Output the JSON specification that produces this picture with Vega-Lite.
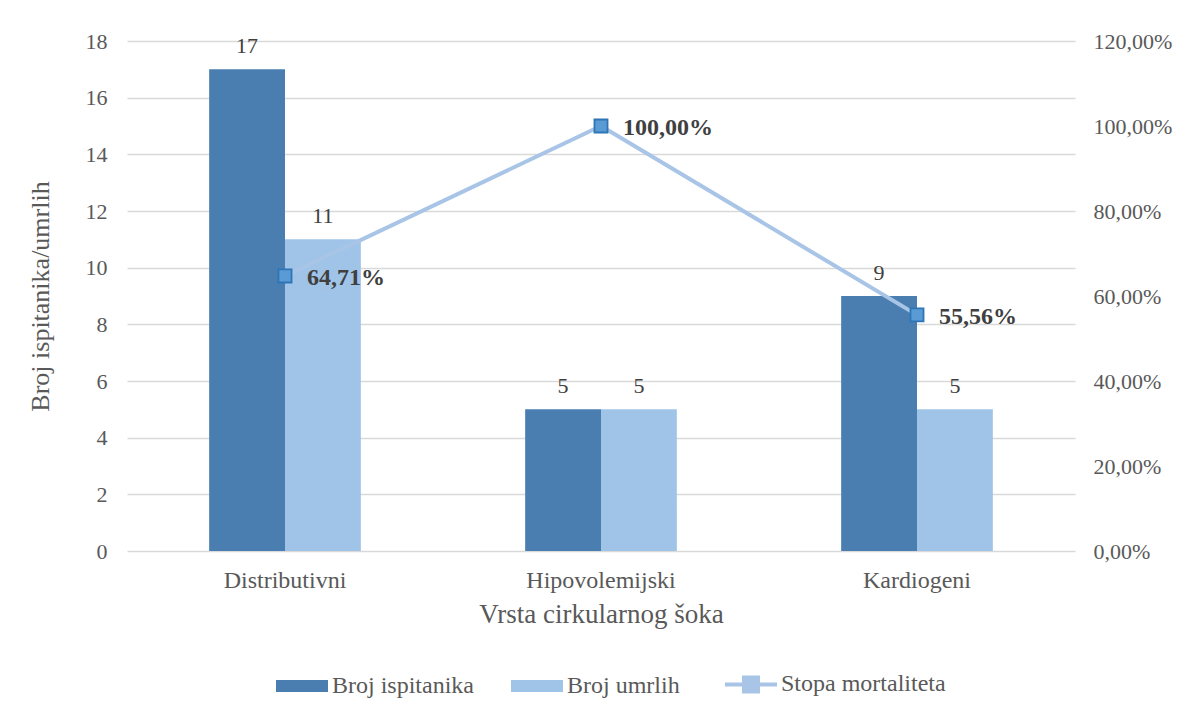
{
  "$schema": "https://vega.github.io/schema/vega-lite/v6.json",
  "width": 948,
  "height": 510,
  "autosize": "none",
  "padding": {"left": 127, "top": 41, "right": 112, "bottom": 165},
  "background": "white",
  "datasets": {
    "bars": [
      {"kat": "Distributivni", "serija": "Broj ispitanika", "broj": 17},
      {"kat": "Distributivni", "serija": "Broj umrlih", "broj": 11},
      {"kat": "Hipovolemijski", "serija": "Broj ispitanika", "broj": 5},
      {"kat": "Hipovolemijski", "serija": "Broj umrlih", "broj": 5},
      {"kat": "Kardiogeni", "serija": "Broj ispitanika", "broj": 9},
      {"kat": "Kardiogeni", "serija": "Broj umrlih", "broj": 5}
    ],
    "stopa": [
      {"kat": "Distributivni", "stopa": 0.6471, "oznaka": "64,71%"},
      {"kat": "Hipovolemijski", "stopa": 1.0, "oznaka": "100,00%"},
      {"kat": "Kardiogeni", "stopa": 0.5556, "oznaka": "55,56%"}
    ]
  },
  "config": {
    "view": {"stroke": null},
    "font": "Liberation Serif",
    "axis": {
      "labelFont": "Liberation Serif",
      "titleFont": "Liberation Serif",
      "labelColor": "#595959",
      "titleColor": "#595959",
      "titleFontWeight": "normal",
      "gridColor": "#D9D9D9",
      "gridWidth": 1.3,
      "domain": false,
      "ticks": false
    }
  },
  "encoding": {
    "x": {
      "field": "kat",
      "type": "nominal",
      "sort": ["Distributivni", "Hipovolemijski", "Kardiogeni"],
      "scale": {"paddingInner": 0.52, "paddingOuter": 0.26},
      "axis": {
        "title": "Vrsta cirkularnog šoka",
        "labelAngle": 0,
        "labelFontSize": 24,
        "labelPadding": 17,
        "titleFontSize": 27,
        "titlePadding": 9,
        "grid": false
      }
    }
  },
  "layer": [
    {
      "data": {"name": "bars"},
      "encoding": {
        "y": {
          "field": "broj",
          "type": "quantitative",
          "scale": {"domain": [0, 18]},
          "axis": {
            "title": "Broj ispitanika/umrlih",
            "values": [0, 2, 4, 6, 8, 10, 12, 14, 16, 18],
            "labelFontSize": 22,
            "labelPadding": 20,
            "titleFontSize": 26,
            "titlePadding": 32,
            "grid": true,
            "orient": "left"
          }
        },
        "xOffset": {
          "field": "serija",
          "type": "nominal",
          "sort": ["Broj ispitanika", "Broj umrlih"],
          "scale": {"paddingInner": 0, "paddingOuter": 0}
        }
      },
      "layer": [
        {
          "mark": {"type": "bar"},
          "encoding": {
            "color": {
              "field": "serija",
              "type": "nominal",
              "scale": {
                "domain": ["Broj ispitanika", "Broj umrlih", "Stopa mortaliteta"],
                "range": ["#4A7EB0", "#9FC4E8", "#A8C4E6"]
              },
              "legend": {
                "title": null,
                "orient": "none",
                "legendX": 163,
                "legendY": 631,
                "direction": "horizontal",
                "padding": 0,
                "labelFont": "Liberation Serif",
                "labelFontSize": 24,
                "labelColor": "#595959",
                "labelOffset": 18,
                "labelLimit": 400,
                "columnPadding": 37,
                "symbolType": "M-1,-0.23L1,-0.23L1,0.23L-1,0.23Z",
                "symbolSize": 2704,
                "symbolStrokeWidth": 0,
                "encode": {
                  "symbols": {
                    "update": {
                      "shape": {"signal": "datum.value === 'Stopa mortaliteta' ? 'M-1,0L1,0M-0.27,-0.27L0.27,-0.27L0.27,0.27L-0.27,0.27Z' : 'M-1,-0.23L1,-0.23L1,0.23L-1,0.23Z'"},
                      "size": {"value": 2704},
                      "fill": {"signal": "datum.value === 'Stopa mortaliteta' ? '#5B9BD5' : (datum.value === 'Broj ispitanika' ? '#4A7EB0' : '#9FC4E8')"},
                      "stroke": {"signal": "datum.value === 'Stopa mortaliteta' ? '#A8C4E6' : null"},
                      "strokeWidth": {"signal": "datum.value === 'Stopa mortaliteta' ? 4 : 0"},
                      "opacity": {"value": 1}
                    }
                  }
                }
              }
            }
          }
        },
        {
          "mark": {"type": "text", "baseline": "alphabetic", "dy": -16, "fontSize": 22, "color": "#404040", "font": "Liberation Serif"},
          "encoding": {
            "text": {"field": "broj", "type": "quantitative"}
          }
        }
      ]
    },
    {
      "data": {"name": "stopa"},
      "encoding": {
        "y": {
          "field": "stopa",
          "type": "quantitative",
          "scale": {"domain": [0, 1.2]},
          "axis": {
            "orient": "right",
            "title": null,
            "values": [0, 0.2, 0.4, 0.6, 0.8, 1.0, 1.2],
            "labelExpr": "replace(format(datum.value, '.2%'), '.', ',')",
            "labelFontSize": 22,
            "labelPadding": 18,
            "grid": false
          }
        }
      },
      "layer": [
        {
          "mark": {"type": "line", "strokeWidth": 4},
          "encoding": {
            "color": {"datum": "Stopa mortaliteta"}
          }
        },
        {
          "mark": {"type": "point", "shape": "square", "filled": true, "size": 170, "fill": "#5B9BD5", "stroke": "#2E75B6", "strokeWidth": 1.8, "opacity": 1}
        },
        {
          "mark": {"type": "text", "align": "left", "baseline": "middle", "dx": 22, "dy": 2, "fontSize": 24, "fontWeight": "bold", "color": "#404040", "font": "Liberation Serif"},
          "encoding": {
            "text": {"field": "oznaka", "type": "nominal"}
          }
        }
      ]
    }
  ],
  "resolve": {"scale": {"y": "independent"}}
}
